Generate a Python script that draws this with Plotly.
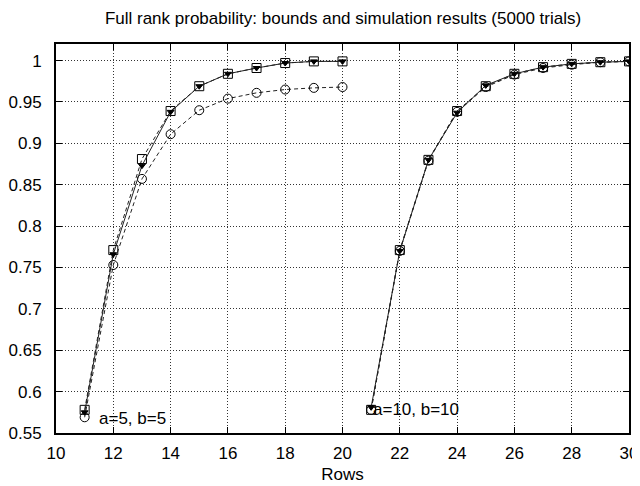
import plotly.graph_objects as go

rows_a5 = [11, 12, 13, 14, 15, 16, 17, 18, 19, 20]
upper_a5 = [0.578, 0.771, 0.881, 0.939, 0.969, 0.984, 0.991, 0.997, 0.999, 0.999]
sim_a5 = [0.575, 0.766, 0.873, 0.938, 0.969, 0.984, 0.991, 0.997, 0.999, 0.999]
lower_a5 = [0.569, 0.753, 0.857, 0.911, 0.940, 0.954, 0.961, 0.965, 0.967, 0.968]

rows_a10 = [21, 22, 23, 24, 25, 26, 27, 28, 29, 30]
upper_a10 = [0.578, 0.771, 0.880, 0.939, 0.969, 0.984, 0.992, 0.996, 0.998, 0.999]
sim_a10 = [0.581, 0.770, 0.880, 0.937, 0.970, 0.984, 0.992, 0.996, 0.998, 0.999]
lower_a10 = [0.578, 0.770, 0.879, 0.938, 0.968, 0.983, 0.991, 0.995, 0.998, 0.999]

labels = ["a=5, b=5", "a=10, b=10"]
label_x = [11.5, 21.05]
label_y = [0.568, 0.579]

x_ticks = list(range(10, 31, 2))
y_ticks = [0.55, 0.6, 0.65, 0.7, 0.75, 0.8, 0.85, 0.9, 0.95, 1.0]
y_tick_text = ["0.55", "0.6", "0.65", "0.7", "0.75", "0.8", "0.85", "0.9", "0.95", "1"]

fig = go.Figure()

def add_series(x, y, symbol, dash, size):
    fig.add_trace(go.Scatter(
        x=x, y=y, mode="lines+markers",
        line=dict(color="#222222", width=1, dash=dash),
        marker=dict(symbol=symbol, size=size, color="black",
                    line=dict(color="black", width=1)),
        showlegend=False, hoverinfo="skip"))

for xs, up, sim, lo in [(rows_a5, upper_a5, sim_a5, lower_a5),
                        (rows_a10, upper_a10, sim_a10, lower_a10)]:
    add_series(xs, up, "square-open", "4px,3px", 9)
    add_series(xs, lo, "circle-open", "4px,3px", 9)
    add_series(xs, sim, "triangle-down", "solid", 6)

for t, lx, ly in zip(labels, label_x, label_y):
    fig.add_annotation(x=lx, y=ly, text=t, showarrow=False, xanchor="left",
                       yanchor="middle", xshift=-2, font=dict(size=17, color="black"))

axis_common = dict(
    showline=True, linecolor="black", linewidth=2, mirror="ticks",
    ticks="inside", ticklen=6, tickcolor="black", tickwidth=1,
    showgrid=True, gridcolor="#333333", griddash="1px,2px", gridwidth=1,
    zeroline=False, tickfont=dict(size=17, color="black"), automargin=False,
)

fig.update_xaxes(range=[10, 30], tickvals=x_ticks, ticklabelstandoff=4,
                 title=dict(text="Rows", font=dict(size=17, color="black"), standoff=6),
                 **axis_common)
fig.update_yaxes(range=[0.55, 1.02], tickvals=y_ticks, ticktext=y_tick_text,
                 ticklabelstandoff=9, **axis_common)

# page body has an 8px margin, so the figure is drawn 8px smaller and offset
W, H = 632, 478
fig.update_layout(
    width=W, height=H,
    margin=dict(l=48, r=11, t=36, b=53),
    paper_bgcolor="white", plot_bgcolor="white",
    font=dict(family="Liberation Sans, Arial, sans-serif", color="black"),
    title=dict(text="Full rank probability: bounds and simulation results (5000 trials)",
               x=335 / W, xanchor="center", y=1 - 10 / H, yanchor="middle",
               pad=dict(t=0, b=0),
               font=dict(size=17, color="black")),
)

fig.write_html("out.html")
